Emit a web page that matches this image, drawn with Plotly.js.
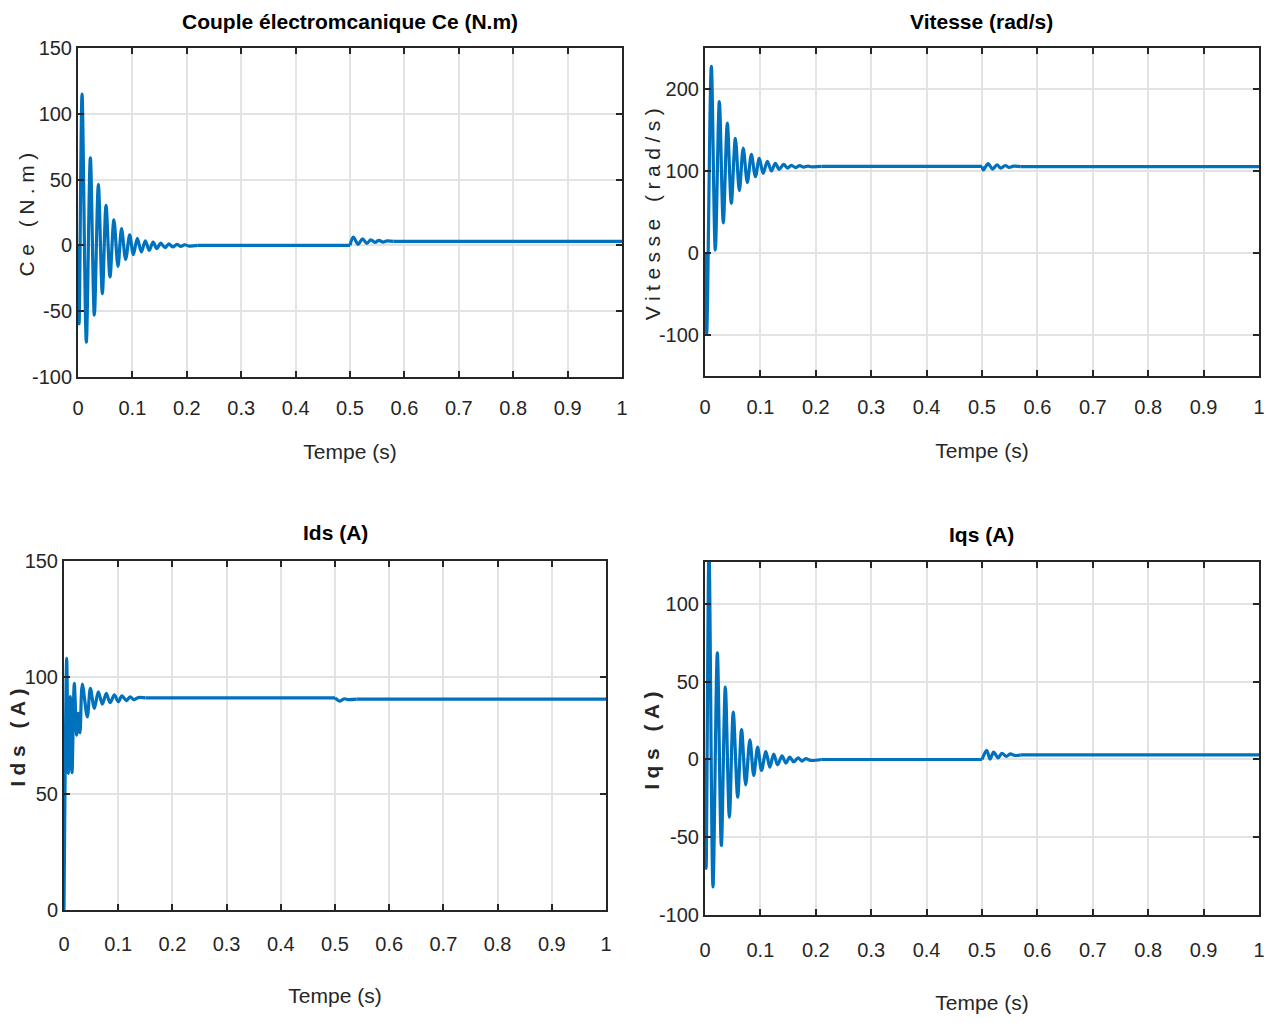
<!DOCTYPE html>
<html>
<head>
<meta charset="utf-8">
<script src="https://cdn.plot.ly/plotly-3.0.1.min.js"></script>
<style>
  html, body { margin: 0; padding: 0; background: #ffffff; }
  #chart { width: 1266px; height: 1023px; }
  .annotation[data-index="4"] text,
  .annotation[data-index="5"] text,
  .annotation[data-index="6"] text,
  .annotation[data-index="7"] text { letter-spacing: 5.5px; }
</style>
</head>
<body>
<div id="chart"></div>
<script>
// ---- Data ----
// Couple électromagnétique Ce (N.m)
const tCe = [0, 0.002, 0.0074, 0.0153, 0.0227, 0.030, 0.0374, 0.0447, 0.0515, 0.0588, 0.066, 0.0735, 0.080, 0.0876, 0.095, 0.1017, 0.109, 0.1164, 0.1237, 0.131, 0.138, 0.145, 0.152, 0.160, 0.167, 0.174, 0.182, 0.189, 0.196, 0.204, 0.22, 0.5, 0.506, 0.515, 0.523, 0.531, 0.538, 0.546, 0.553, 0.561, 0.568, 0.58, 1.0];
const ceVals = [0, -59.5, 115, -73.5, 66.6, -53, 46.3, -36.7, 30.4, -24, 19.5, -16, 12.7, -10.6, 8.1, -7, 5.3, -5, 3.5, -3.8, 2.5, -2.5, 1.7, -1.7, 1.2, -1.2, 0.8, -0.8, 0.5, -0.5, 0, 0, 6.3, 0.8, 5, 1.5, 4.3, 2.3, 3.8, 2.5, 3.4, 3, 3];

// Vitesse (rad/s)
const tW = [0, 0.003, 0.0114, 0.0186, 0.0259, 0.033, 0.0403, 0.0475, 0.0548, 0.062, 0.069, 0.0764, 0.0837, 0.091, 0.098, 0.105, 0.1125, 0.12, 0.127, 0.134, 0.142, 0.149, 0.156, 0.163, 0.171, 0.178, 0.186, 0.193, 0.21, 0.5, 0.5025, 0.511, 0.519, 0.527, 0.534, 0.542, 0.549, 0.557, 0.57, 1.0];
const wVals = [0, -99, 227.6, 3.7, 184.6, 36.6, 158.5, 60.6, 139.8, 76, 128, 86, 120.3, 93, 115.4, 97.2, 111.8, 100, 109.3, 102, 108, 103.6, 107, 104.2, 106.5, 104.7, 106, 105.1, 105.6, 105.6, 101.2, 109, 102.4, 107.5, 103.5, 106.7, 104.3, 106, 105.3, 105.3];

// Ids (A)
const tIds = [0, 0.005, 0.008, 0.0117, 0.0148, 0.019, 0.0234, 0.0264, 0.0295, 0.0338, 0.043, 0.0486, 0.056, 0.0633, 0.0707, 0.078, 0.085, 0.093, 0.100, 0.107, 0.115, 0.122, 0.129, 0.137, 0.15, 0.5, 0.509, 0.517, 0.525, 0.54, 1.0];
const idsVals = [0, 108.2, 58.7, 91.7, 59, 97.4, 75.2, 84.5, 76.2, 97.1, 83, 95.3, 86.7, 93.8, 88.5, 93.1, 89.1, 92.5, 89.5, 92, 90, 91.6, 90.4, 91.3, 91.2, 91.2, 89.8, 90.8, 90.4, 90.6, 90.6];

// Iqs (A)
const tIqs = [0, 0.002, 0.0072, 0.0144, 0.0223, 0.0295, 0.0367, 0.044, 0.051, 0.059, 0.066, 0.0734, 0.081, 0.088, 0.095, 0.102, 0.110, 0.117, 0.124, 0.131, 0.139, 0.146, 0.153, 0.160, 0.168, 0.175, 0.182, 0.19, 0.21, 0.5, 0.5085, 0.5145, 0.521, 0.529, 0.536, 0.544, 0.551, 0.559, 0.57, 1.0];
const iqsVals = [0, -70, 135, -82, 68.6, -55.3, 46.5, -37.1, 30.4, -24.2, 19.3, -16.3, 12.6, -10.3, 8, -7, 5.1, -5, 3.4, -3.4, 2.3, -2.3, 1.5, -1.5, 1, -1, 0.6, -0.6, 0, 0, 5.8, 0.3, 4.7, 1.1, 4, 2, 3.6, 2.6, 3, 3];

// Tick labels
const xTickVals = [0, 0.1, 0.2, 0.3, 0.4, 0.5, 0.6, 0.7, 0.8, 0.9, 1];
const xTickText = ['0', '0.1', '0.2', '0.3', '0.4', '0.5', '0.6', '0.7', '0.8', '0.9', '1'];
const ceTickVals = [-100, -50, 0, 50, 100, 150];
const ceTickText = ['-100', '-50', '0', '50', '100', '150'];
const wTickVals = [-100, 0, 100, 200];
const wTickText = ['-100', '0', '100', '200'];
const idsTickVals = [0, 50, 100, 150];
const idsTickText = ['0', '50', '100', '150'];
const iqsTickVals = [-100, -50, 0, 50, 100];
const iqsTickText = ['-100', '-50', '0', '50', '100'];

// Titles
const plotTitles = ['Couple électromcanique Ce (N.m)', 'Vitesse (rad/s)', 'Ids (A)', 'Iqs (A)'];
const yTitles = ['Ce (N.m)', 'Vitesse (rad/s)', 'Ids (A)', 'Iqs (A)'];
const xTitle = 'Tempe (s)';

// ---- Styling ----
const lineColor = '#0072BD';
const axisColor = '#262626';
const font = '"Liberation Sans", Arial, Helvetica, sans-serif';

// Split a series into runs: oscillating parts drawn smoothed, constant parts drawn straight
function traces(t, v, xa, ya) {
  const out = [];
  let i = 0;
  while (i < t.length - 1) {
    const flat = v[i] === v[i + 1];
    let j = i + 1;
    while (j < t.length - 1 && (v[j] === v[j + 1]) === flat) j++;
    out.push({
      x: t.slice(i, j + 1), y: v.slice(i, j + 1), xaxis: xa, yaxis: ya,
      type: 'scatter', mode: 'lines',
      line: { color: lineColor, width: 3.2, shape: flat ? 'linear' : 'spline', smoothing: 0.9 },
      hoverinfo: 'x+y', showlegend: false
    });
    i = j;
  }
  return out;
}

function xax(domain, anchor, lblStandoff, titleStandoff) {
  return {
    domain: domain, anchor: anchor, range: [0, 1],
    tickmode: 'array', tickvals: xTickVals, ticktext: xTickText,
    ticks: 'inside', ticklen: 6, tickwidth: 2, tickcolor: axisColor,
    showline: true, linecolor: axisColor, linewidth: 2, mirror: 'allticks',
    showgrid: true, gridcolor: '#e3e3e3', gridwidth: 1.5, zeroline: false,
    tickfont: { family: font, size: 20, color: axisColor },
    ticklabelstandoff: lblStandoff,
    automargin: false,
    title: { text: xTitle, font: { family: font, size: 21, color: axisColor }, standoff: titleStandoff }
  };
}

function yax(domain, anchor, range, vals, text) {
  return {
    domain: domain, anchor: anchor, range: range,
    tickmode: 'array', tickvals: vals, ticktext: text,
    ticks: 'inside', ticklen: 6, tickwidth: 2, tickcolor: axisColor,
    showline: true, linecolor: axisColor, linewidth: 2, mirror: 'allticks',
    showgrid: true, gridcolor: '#e3e3e3', gridwidth: 1.5, zeroline: false,
    tickfont: { family: font, size: 20, color: axisColor },
    automargin: false
  };
}

const data = [].concat(
  traces(tCe, ceVals, 'x', 'y'),
  traces(tW, wVals, 'x2', 'y2'),
  traces(tIds, idsVals, 'x3', 'y3'),
  traces(tIqs, iqsVals, 'x4', 'y4')
);

const titleFont = { family: font, size: 21, color: '#000000', weight: 700 };
const yTitleFont = { family: font, size: 21, color: axisColor, weight: 400 };
const yTitleFontB = { family: font, size: 21, color: axisColor, weight: 600 };

const dTL = { x: [0.01172, 0.46695], y: [0.62053, 1.0] };
const dTR = { x: [0.53640, 1.0], y: [0.62168, 1.0] };
const dBL = { x: [0.0, 0.45356], y: [0.00577, 0.40830] };
const dBR = { x: [0.53640, 1.0], y: [0.0, 0.40715] };
const mid = a => (a[0] + a[1]) / 2;

function ann(text, x, y, f, angle) {
  return { text: text, xref: 'paper', yref: 'paper', x: x, y: y, xanchor: 'center', yanchor: 'middle',
           showarrow: false, font: f, textangle: angle || 0 };
}

const layout = {
  width: 1266, height: 1023,
  margin: { l: 64, r: 7, t: 48, b: 108, pad: 0 },
  paper_bgcolor: '#ffffff', plot_bgcolor: '#ffffff',
  xaxis:  xax(dTL.x, 'y', 12, 26),
  yaxis:  yax(dTL.y, 'x', [-100, 150], ceTickVals, ceTickText),
  xaxis2: xax(dTR.x, 'y2', 12, 26),
  yaxis2: yax(dTR.y, 'x2', [-150, 250], wTickVals, wTickText),
  xaxis3: xax(dBL.x, 'y3', 15, 34),
  yaxis3: yax(dBL.y, 'x3', [0, 150], idsTickVals, idsTickText),
  xaxis4: xax(dBR.x, 'y4', 16, 35),
  yaxis4: yax(dBR.y, 'x4', [-100, 127], iqsTickVals, iqsTickText),
  annotations: [
    ann(plotTitles[0], mid(dTL.x), 1.030, titleFont),
    ann(plotTitles[1], mid(dTR.x), 1.030, titleFont),
    ann(plotTitles[2], mid(dBL.x), 0.4406, titleFont),
    ann(plotTitles[3], mid(dBR.x), 0.4383, titleFont),
    ann(yTitles[0], (27 - 64) / 1195, mid(dTL.y), yTitleFont, -90),
    ann(yTitles[1], (652 - 64) / 1195, mid(dTR.y), yTitleFont, -90),
    ann(yTitles[2], (18 - 64) / 1195, mid(dBL.y), yTitleFontB, -90),
    ann(yTitles[3], (652 - 64) / 1195, mid(dBR.y), yTitleFontB, -90)
  ]
};

Plotly.newPlot('chart', data, layout, { displayModeBar: false, responsive: false });
</script>
</body>
</html>
